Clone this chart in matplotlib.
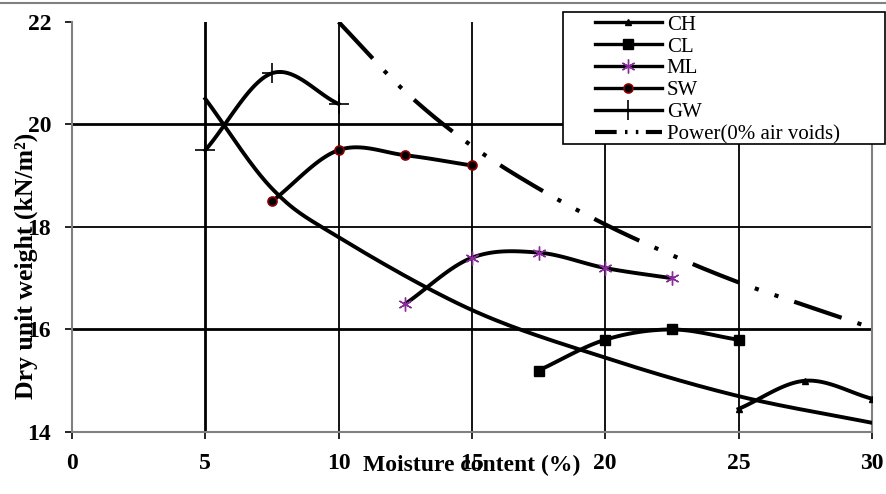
import matplotlib
matplotlib.use("Agg")
import matplotlib.pyplot as plt
from matplotlib.patches import Rectangle
from matplotlib.lines import Line2D
import numpy as np

# data
gw_x = [5, 7.5, 10]
gw_y = [19.5, 21.0, 20.4]
sw_x = [7.5, 10, 12.5, 15]
sw_y = [18.5, 19.5, 19.4, 19.2]
ml_x = [12.5, 15, 17.5, 20, 22.5]
ml_y = [16.5, 17.4, 17.5, 17.2, 17.0]
cl_x = [17.5, 20, 22.5, 25]
cl_y = [15.2, 15.8, 16.0, 15.8]
ch_x = [25, 27.5, 30]
ch_y = [14.45, 15.0, 14.65]
opt_x = [5, 7.5, 10, 15, 20, 25, 30]
opt_y = [20.5, 18.75, 17.8, 16.38, 15.45, 14.7, 14.18]
pw_x = [10, 12.5, 15, 17.5, 20, 22.5, 25, 27.5, 30]
pw_y = [22.0, 20.64, 19.58, 18.75, 18.05, 17.45, 16.92, 16.47, 16.03]


def smooth(x, y, n=30):
    """Catmull-Rom style smoothing like spreadsheet 'smoothed line'"""
    x = np.asarray(x, float)
    y = np.asarray(y, float)
    if len(x) < 3:
        return x, y
    px = np.concatenate([[2 * x[0] - x[1]], x, [2 * x[-1] - x[-2]]])
    py = np.concatenate([[2 * y[0] - y[1]], y, [2 * y[-1] - y[-2]]])
    xs, ys = [], []
    t = np.linspace(0, 1, n)
    for i in range(1, len(px) - 2):
        for p, out in ((px, xs), (py, ys)):
            p0, p1, p2, p3 = p[i - 1], p[i], p[i + 1], p[i + 2]
            out.extend(0.5 * ((2 * p1) + (-p0 + p2) * t
                              + (2 * p0 - 5 * p1 + 4 * p2 - p3) * t ** 2
                              + (-p0 + 3 * p1 - 3 * p2 + p3) * t ** 3))
    return np.array(xs), np.array(ys)


plt.rcParams["font.family"] = ["Liberation Serif", "DejaVu Serif"]

fig = plt.figure(figsize=(8.86, 4.94), dpi=100)
ax = fig.add_axes([0.0813, 0.1255, 0.9027, 0.83])

# grid lines
for yv, lw in [(16, 2.0), (18, 1.3), (20, 2.0)]:
    ax.axhline(yv, color="black", lw=lw, zorder=1)
for xv, lw in [(5, 2.0), (10, 1.3), (15, 1.3), (20, 1.3), (25, 1.3)]:
    ax.axvline(xv, color="black", lw=lw, zorder=1)

lw = 2.8
handles = []
series = [
    (ch_x, ch_y, "CH", dict(marker="^", ms=5, mfc="black", mec="black")),
    (cl_x, cl_y, "CL", dict(marker="s", ms=7, mfc="black", mec="black")),
    (ml_x, ml_y, "ML", dict(marker=(6, 2, 0), ms=10, mec="#8b2c9e", mew=1.0)),
    (sw_x, sw_y, "SW", dict(marker="o", ms=6.5, mfc="black", mec="#8b0000", mew=1.2)),
    (gw_x, gw_y, "GW", dict(marker="+", ms=14, mec="black", mew=1.2)),
]
for x, y, lab, mk in series:
    sx, sy = smooth(x, y)
    ax.plot(sx, sy, color="black", lw=lw, zorder=3)
    ax.plot(x, y, ls="none", zorder=4, **mk)
    handles.append(Line2D([], [], color="black", lw=2.4, label=lab, **mk))

ox, oy = smooth(opt_x, opt_y)
ax.plot(ox, oy, color="black", lw=lw, zorder=3)

px, py = smooth(pw_x, pw_y)
ax.plot(px, py, color="black", lw=3, dashes=(12, 4, 1, 4, 1, 4), zorder=3)
handles.append(Line2D([], [], color="black", lw=3, dashes=(5.2, 2, 0.6, 2, 0.6, 1.8),
                      label="Power(0% air voids)"))

ax.set_xlim(0, 30)
ax.set_ylim(14, 22)
ax.set_xticks([0, 5, 10, 15, 20, 25, 30])
ax.set_yticks([14, 16, 18, 20, 22])
ax.tick_params(direction="out", length=5, width=1.2, colors="black",
               labelsize=17, pad=10)
for t in ax.get_xticklabels() + ax.get_yticklabels():
    t.set_fontweight("bold")
for s in ["left", "bottom", "right"]:
    ax.spines[s].set_color("#808080")
    ax.spines[s].set_linewidth(1.5)
ax.spines["top"].set_visible(False)

ax.set_xlabel("Moisture content (%)", fontsize=17, fontweight="bold", labelpad=-14)
ax.set_ylabel("Dry unit weight (kN/m²)", fontsize=18.5, fontweight="bold")
ax.yaxis.set_label_coords(-0.043, 0.405)

# legend frame with white fill, covering the grid
fig.add_artist(Rectangle((563 / 886, 1 - 144 / 494), 322 / 886, 132 / 494,
                         transform=fig.transFigure, facecolor="white",
                         edgecolor="black", lw=1.2, zorder=2))

leg = fig.legend(handles=handles, loc="upper left", bbox_to_anchor=(0.655, 0.999),
                 fontsize=15, frameon=False, handlelength=3.2, labelspacing=0.11,
                 borderpad=0.2, handletextpad=0.25)
leg.set_zorder(3)

fig.add_artist(Line2D([0, 1], [0.994, 0.994], color="#808080", lw=1.5,
                      transform=fig.transFigure))

fig.savefig("out.png", dpi=100)
plt.close()
